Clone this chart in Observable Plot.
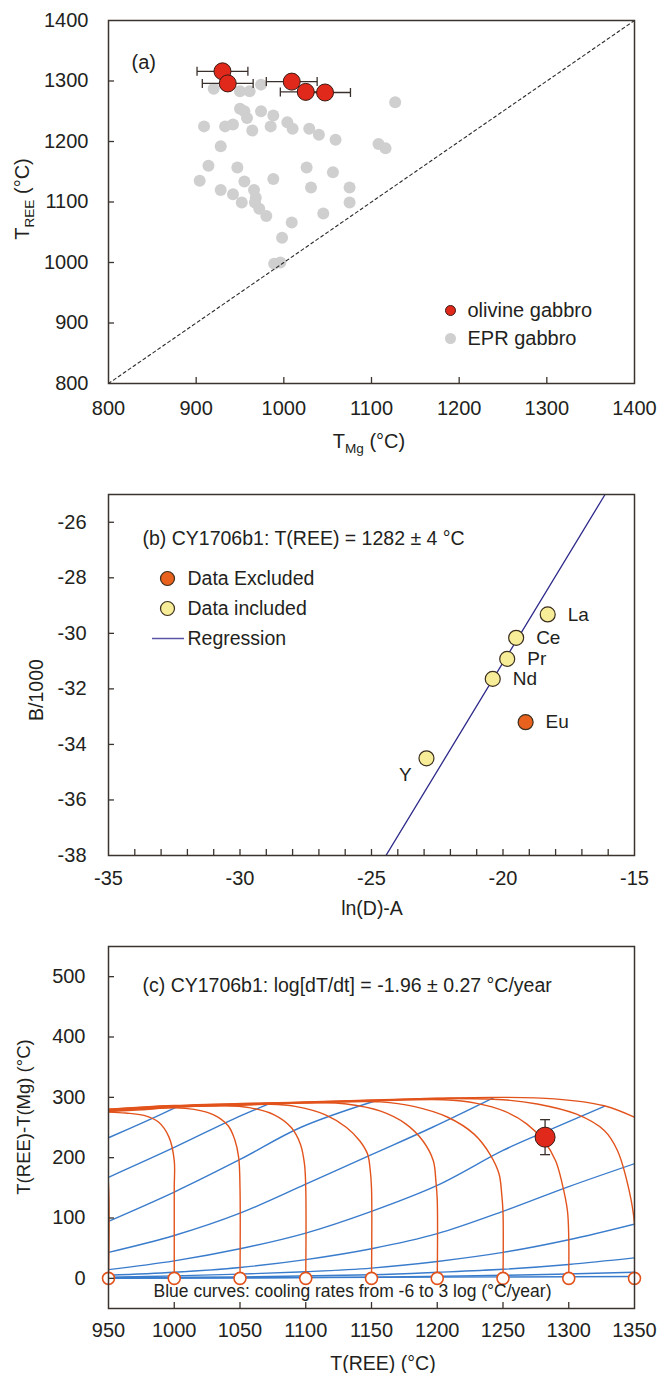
<!DOCTYPE html>
<html><head><meta charset="utf-8">
<script src="https://cdn.jsdelivr.net/npm/d3@7"></script>
<script src="https://cdn.jsdelivr.net/npm/@observablehq/plot@0.6"></script>
<style>
body{margin:0;background:#fff;}
#chart{width:662px;}
#chart svg{display:block;}
</style></head><body><div id="chart"></div>
<script>
// ---------------- Panel (a) data ----------------
const aTicks = [800, 900, 1000, 1100, 1200, 1300, 1400];
const oliveTMg  = [930, 936, 1009, 1025, 1047];
const oliveTREE = [1316, 1296, 1299, 1282, 1281];
const oliveErr  = [29, 29, 29, 29, 29];
const eprTMg  = [920, 950, 961, 974, 1127, 950, 955, 958, 974, 988, 909, 933, 942, 964, 985, 1004, 1010, 1029, 1040, 1059, 1108, 1116, 928, 914, 947, 1026, 1056, 904, 955, 988, 928, 966, 1031, 1075, 942, 968, 952, 967, 972, 980, 1045, 1075, 1009, 998, 989, 996];
const eprTREE = [1287, 1283, 1283, 1294, 1265, 1254, 1250, 1239, 1250, 1243, 1225, 1225, 1228, 1218, 1225, 1232, 1221, 1221, 1211, 1203, 1196, 1189, 1192, 1160, 1157, 1157, 1149, 1135, 1134, 1138, 1120, 1120, 1124, 1124, 1113, 1107, 1099, 1099, 1089, 1077, 1081, 1099, 1066, 1041, 998, 1000];
const oneToOne = [800, 1400];
const legendA = ["olivine gabbro", "EPR gabbro"];

// ---------------- Panel (b) data ----------------
const bXTicks = [-35, -30, -25, -20, -15];
const bXMinor = [-34,-33,-32,-31,-30,-29,-28,-27,-26,-25,-24,-23,-22,-21,-20,-19,-18,-17,-16];
const bYTicks = [-38, -36, -34, -32, -30, -28, -26];
const elements = ["La", "Ce", "Pr", "Nd", "Eu", "Y"];
const lnDA     = [-18.30, -19.50, -19.84, -20.39, -19.14, -22.91];
const B1000    = [-29.32, -30.16, -30.92, -31.64, -33.20, -34.50];
const included = [true, true, true, true, false, true];
const regX = [-24.45, -16.12];
const regY = [-38, -25];
const legendB = ["Data Excluded", "Data included", "Regression"];

// ---------------- Panel (c) data ----------------
const cXTicks = [950, 1000, 1050, 1100, 1150, 1200, 1250, 1300, 1350];
const cYTicks = [0, 100, 200, 300, 400, 500];
const startT = [950, 1000, 1050, 1100, 1150, 1200, 1250, 1300, 1350];
const sampleT = [1282], sampleDT = [234], sampleErr = [29];
// orange curves: [T(REE), T(REE)-T(Mg)]
const orange950  = [[950,0],[950,154],[948,190],[940,230]];
const orange1000 = [[1000,0],[1000,150],[1000,195],[996,234],[988,259],[977,270],[963,274],[950,275.5]];
const orange1050 = [[1050,0],[1050,150],[1049,200],[1046,230],[1041,253],[1030,271],[1015,280],[1000,282.5],[975,279.5],[950,276.5]];
const orange1100 = [[1100,0],[1100,150],[1099,190],[1096,222],[1089,250],[1076,271],[1057,283],[1038,286],[1000,283.5],[950,277.5]];
const orange1150 = [[1150,0],[1150,150],[1149,180],[1147,206],[1141,228],[1131,250],[1115,271],[1092,285],[1073,288.5],[1050,287],[1000,284],[950,278]];
const orange1200 = [[1200,0],[1200,130],[1199,160],[1197,195],[1189,228],[1176,256],[1157,277],[1131,289],[1108,291],[1050,287.5],[1000,284.5],[950,278.5]];
const orange1250 = [[1250,0],[1250,110],[1249,140],[1247,173],[1240,206],[1228,239],[1208,267],[1182,285],[1157,292.5],[1100,291],[1050,288],[1000,285],[950,279]];
const orange1300 = [[1300,0],[1300,68],[1299,112],[1295,157],[1290,195],[1281,228],[1268,256],[1251,277],[1230,290],[1205,296],[1150,294],[1100,291.5],[1000,285.5],[950,279.5]];
const orange1350 = [[1350,0],[1350,90],[1346,145],[1337,212],[1327,245],[1306,272],[1276,289],[1250,296],[1200,298],[1150,295],[1100,292],[1000,286],[950,280]];
const orange1400 = [[1352,265],[1327,286],[1289,297.5],[1243,300],[1200,298.5],[1150,295.5],[1100,292.5],[1000,286.5],[950,280.5]];
// blue curves: cooling rates
const blue1  = [[950,233],[977,259],[1002,284]];
const blue2  = [[950,167.5],[1000,217],[1045,264],[1072,289]];
const blue3  = [[950,94.5],[1000,143],[1050,197],[1096,250],[1152,293.5]];
const blue4  = [[950,43],[1000,71],[1050,108],[1100,156],[1150,205],[1196,250],[1243,299.5]];
const blue5  = [[950,14.4],[1000,29],[1050,49],[1100,75],[1150,111],[1200,154],[1250,212],[1281,242],[1327,285]];
const blue6  = [[950,5],[1000,10],[1050,18],[1100,31],[1150,49],[1200,74],[1250,111],[1300,152],[1350,190]];
const blue7  = [[950,2],[1000,4],[1050,7],[1100,11],[1150,17],[1200,28],[1250,43],[1300,64],[1350,90]];
const blue8  = [[950,1],[1050,2.5],[1150,6],[1200,10],[1250,15],[1300,23],[1350,34]];
const blue9  = [[950,0.5],[1150,2],[1250,5],[1350,10]];
const blue10 = [[950,0.2],[1350,3]];

// ---------------- helpers ----------------
const W = 662;
const FONT = "'Liberation Sans', Arial, Helvetica, sans-serif";
const INK = "#231f20";
const FRAME = "#3b342e";
const fmt = d => String(d);
const baseStyle = {fontFamily: FONT, fontSize: "20px", color: INK, background: "white", overflow: "visible"};

const vCap = {draw(ctx, size) { const r = Math.sqrt(size / Math.PI); ctx.moveTo(0, -r); ctx.lineTo(0, r); }};
const hCap = {draw(ctx, size) { const r = Math.sqrt(size / Math.PI); ctx.moveTo(-r, 0); ctx.lineTo(r, 0); }};

function inward(xt, yt, plotW, plotH, len) {
  return [
    Plot.tickX(xt, {x: d => d, insetTop: plotH - len, stroke: FRAME, strokeWidth: 1.3}),
    Plot.tickY(yt, {y: d => d, insetRight: plotW - len, stroke: FRAME, strokeWidth: 1.3})
  ];
}

function title(svg, parts, x, y, rotate, size) {
  const t = d3.select(svg).append("text")
    .attr("transform", `translate(${x},${y})` + (rotate ? " rotate(-90)" : ""))
    .attr("text-anchor", "middle")
    .attr("font-family", FONT).attr("font-size", size).attr("fill", INK);
  let shift = 0;
  parts.forEach((p, i) => {
    const s = t.append("tspan").text(p.t);
    let dy = 0;
    if (i === 0) dy += size * 0.35;
    if (p.sub) { s.attr("font-size", size * 0.68); dy += 5 - shift; shift = 5; }
    else if (shift) { dy -= shift; shift = 0; }
    if (dy) s.attr("dy", dy);
  });
}

const root = document.getElementById("chart");

// ---------------- Panel (a) ----------------
{
  const mL = 108, mR = 28, mT = 20, mB = 77, H = 460;
  const eprData = eprTMg.map((x, i) => ({x, y: eprTREE[i]}));
  const olive = oliveTMg.map((x, i) => ({x, y: oliveTREE[i], e: oliveErr[i]}));
  const diag = oneToOne.map(v => ({v}));
  const svg = Plot.plot({
    width: W, height: H, marginLeft: mL, marginRight: mR, marginTop: mT, marginBottom: mB,
    style: baseStyle,
    x: {domain: [800, 1400], ticks: aTicks, tickFormat: fmt, tickSize: 0, tickPadding: 17, label: null},
    y: {domain: [800, 1400], ticks: aTicks, tickFormat: fmt, tickSize: 0, tickPadding: 20, label: null},
    marks: [
      Plot.dot(eprData, {x: "x", y: "y", r: 6, fill: "#cfcfcf"}),
      Plot.line(diag, {x: "v", y: "v", stroke: "#2a2a2a", strokeWidth: 1.1, strokeDasharray: "3,3"}),
      Plot.link(olive, {x1: d => d.x - d.e, x2: d => d.x + d.e, y1: "y", y2: "y", stroke: "#3a302b", strokeWidth: 1.3}),
      Plot.dot(olive, {x: d => d.x - d.e, y: "y", symbol: vCap, r: 4.5, fill: "none", stroke: "#3a302b", strokeWidth: 1.3}),
      Plot.dot(olive, {x: d => d.x + d.e, y: "y", symbol: vCap, r: 4.5, fill: "none", stroke: "#3a302b", strokeWidth: 1.3}),
      Plot.dot(olive, {x: "x", y: "y", r: 8.5, fill: "#e0281b", stroke: "#3a1a14", strokeWidth: 1}),
      ...inward(aTicks.slice(1, -1), aTicks.slice(1, -1), W - mL - mR, H - mT - mB, 6),
      Plot.frame({stroke: FRAME, strokeWidth: 1.5}),
      Plot.text(["(a)"], {text: d => d, frameAnchor: "top-left", dx: 23, dy: 42, textAnchor: "start", lineAnchor: "middle", fontSize: 20, fill: INK}),
      Plot.dot([legendA[0]], {frameAnchor: "top-left", dx: 342, dy: 290, r: 5, fill: "#e0281b", stroke: "#3a1a14", strokeWidth: 1}),
      Plot.dot([legendA[1]], {frameAnchor: "top-left", dx: 342, dy: 318, r: 5.5, fill: "#cfcfcf"}),
      Plot.text([legendA[0]], {text: d => d, frameAnchor: "top-left", dx: 359, dy: 290, textAnchor: "start", lineAnchor: "middle", fontSize: 20, fill: INK}),
      Plot.text([legendA[1]], {text: d => d, frameAnchor: "top-left", dx: 359, dy: 318, textAnchor: "start", lineAnchor: "middle", fontSize: 20, fill: INK})
    ]
  });
  title(svg, [{t: "T"}, {t: "Mg", sub: true}, {t: " (°C)"}], 369, 441, false, 20);
  title(svg, [{t: "T"}, {t: "REE", sub: true}, {t: " (°C)"}], 22, 199, true, 20);
  root.appendChild(svg);
}

// ---------------- Panel (b) ----------------
{
  const mL = 108, mR = 28, mT = 34, mB = 70, H = 465;
  const pts = elements.map((el, i) => ({el, x: lnDA[i], y: B1000[i], inc: included[i]}));
  const reg = regX.map((x, i) => ({x, y: regY[i]}));
  const legText = (label, dy) => Plot.text([label], {text: d => d, frameAnchor: "top-left", dx: 79, dy, textAnchor: "start", lineAnchor: "middle", fontSize: 19.5, fill: INK});
  const svg = Plot.plot({
    width: W, height: H, marginLeft: mL, marginRight: mR, marginTop: mT, marginBottom: mB,
    style: baseStyle,
    x: {domain: [-35, -15], ticks: bXTicks, tickFormat: fmt, tickSize: 0, tickPadding: 15, label: null},
    y: {domain: [-38, -25], ticks: bYTicks, tickFormat: fmt, tickSize: 0, tickPadding: 22, label: null},
    marks: [
      Plot.line(reg, {x: "x", y: "y", stroke: "#2e2a8a", strokeWidth: 1.3, clip: true}),
      Plot.dot(pts, {x: "x", y: "y", r: 7.5, fill: d => d.inc ? "#f7ec98" : "#e8611d", stroke: "#3b2e1e", strokeWidth: 1.2}),
      Plot.text(pts.filter(d => d.el !== "Y"), {x: "x", y: "y", text: "el", dx: 20, textAnchor: "start", lineAnchor: "middle", fontSize: 19, fill: INK}),
      Plot.text(pts.filter(d => d.el === "Y"), {x: "x", y: "y", text: "el", dx: -21, dy: 17, textAnchor: "middle", lineAnchor: "middle", fontSize: 19, fill: INK}),
      ...inward(bXMinor, bYTicks.slice(1), W - mL - mR, H - mT - mB, 6),
      Plot.frame({stroke: FRAME, strokeWidth: 1.5}),
      Plot.text(["(b) CY1706b1: T(REE) = 1282 ± 4 °C"], {text: d => d, frameAnchor: "top-left", dx: 34, dy: 44, textAnchor: "start", lineAnchor: "middle", fontSize: 19.5, fill: INK}),
      Plot.dot([legendB[0]], {frameAnchor: "top-left", dx: 59, dy: 84, r: 7, fill: "#e8611d", stroke: "#3b2e1e", strokeWidth: 1.2}),
      Plot.dot([legendB[1]], {frameAnchor: "top-left", dx: 59, dy: 114, r: 7, fill: "#f7ec98", stroke: "#3b2e1e", strokeWidth: 1.2}),
      legText(legendB[0], 84),
      legText(legendB[1], 114),
      legText(legendB[2], 144)
    ]
  });
  d3.select(svg).append("line").attr("x1", 152).attr("x2", 184).attr("y1", 178.5).attr("y2", 178.5)
    .attr("stroke", "#5a55a5").attr("stroke-width", 1.5);
  title(svg, [{t: "ln(D)-A"}], 372, 448, false, 19.5);
  title(svg, [{t: "B/1000"}], 36, 230, true, 19.5);
  root.appendChild(svg);
}

// ---------------- Panel (c) ----------------
{
  const mL = 108, mR = 28, mT = 21, mB = 65, H = 448;
  const toRows = (arr, id) => arr.map(([T, v]) => ({T, v, id}));
  const orangeRows = [orange950, orange1000, orange1050, orange1100, orange1150, orange1200, orange1250, orange1300, orange1350, orange1400]
    .flatMap((c, i) => toRows(c, "o" + i));
  const blueRows = [blue1, blue2, blue3, blue4, blue5, blue6, blue7, blue8, blue9, blue10]
    .flatMap((c, i) => toRows(c, "b" + i));
  const starts = startT.map(T => ({T, v: 0}));
  const sample = sampleT.map((T, i) => ({T, v: sampleDT[i], e: sampleErr[i]}));
  const svg = Plot.plot({
    width: W, height: H, marginLeft: mL, marginRight: mR, marginTop: mT, marginBottom: mB,
    style: baseStyle,
    x: {domain: [950, 1350], ticks: cXTicks, tickFormat: fmt, tickSize: 0, tickPadding: 14, label: null},
    y: {domain: [-50, 550], ticks: cYTicks, tickFormat: fmt, tickSize: 0, tickPadding: 23, label: null},
    marks: [
      Plot.line(blueRows, {x: "T", y: "v", z: "id", curve: "catmull-rom", stroke: "#3a7ccc", strokeWidth: 1.4, clip: true}),
      Plot.line(orangeRows, {x: "T", y: "v", z: "id", curve: "catmull-rom", stroke: "#e2531c", strokeWidth: 1.4, clip: true}),
      Plot.dot(starts, {x: "T", y: "v", r: 6, fill: "white", stroke: "#e2531c", strokeWidth: 1.6}),
      Plot.link(sample, {x1: "T", x2: "T", y1: d => d.v - d.e, y2: d => d.v + d.e, stroke: "#3a302b", strokeWidth: 1.3}),
      Plot.dot(sample, {x: "T", y: d => d.v - d.e, symbol: hCap, r: 5, fill: "none", stroke: "#3a302b", strokeWidth: 1.3}),
      Plot.dot(sample, {x: "T", y: d => d.v + d.e, symbol: hCap, r: 5, fill: "none", stroke: "#3a302b", strokeWidth: 1.3}),
      Plot.dot(sample, {x: "T", y: "v", r: 10, fill: "#e0281b", stroke: "#3a1a14", strokeWidth: 1}),
      ...inward(cXTicks.slice(1, -1), cYTicks, W - mL - mR, H - mT - mB, 6),
      Plot.frame({stroke: FRAME, strokeWidth: 1.5}),
      Plot.text(["(c) CY1706b1: log[dT/dt] = -1.96 ± 0.27 °C/year"], {text: d => d, frameAnchor: "top-left", dx: 34, dy: 39, textAnchor: "start", lineAnchor: "middle", fontSize: 19.5, fill: INK}),
      Plot.text(["Blue curves: cooling rates from -6 to 3 log (°C/year)"], {text: d => d, frameAnchor: "bottom", dx: -19, dy: -17, textAnchor: "middle", lineAnchor: "middle", fontSize: 17.5, fill: INK})
    ]
  });
  title(svg, [{t: "T(REE) (°C)"}], 383, 438, false, 19.5);
  title(svg, [{t: "T(REE)-T(Mg) (°C)"}], 24, 192, true, 18.5);
  root.appendChild(svg);
}
</script></body></html>
